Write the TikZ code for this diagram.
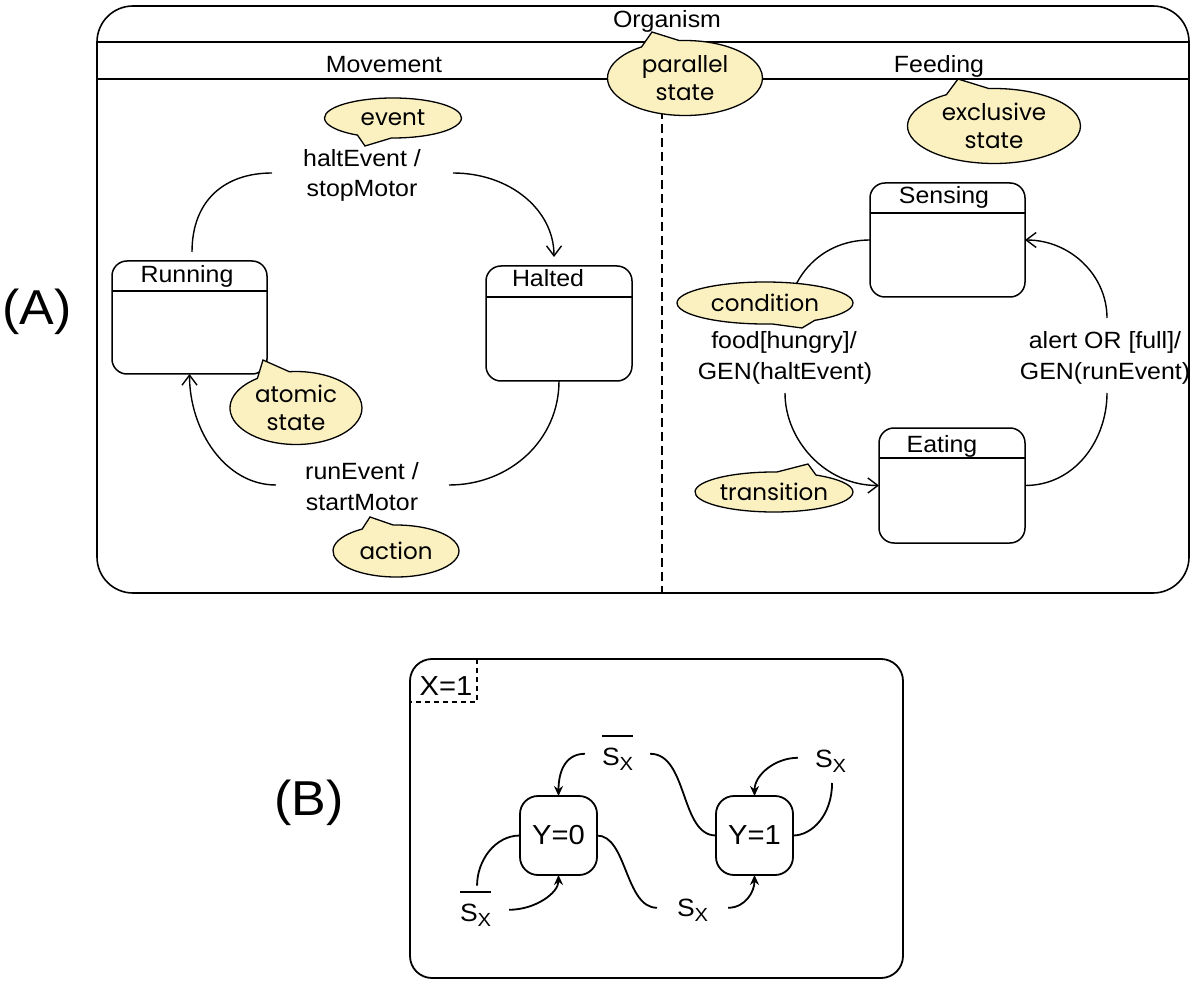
\documentclass[tikz,border=0pt]{standalone}
\usepackage{fontspec}
\setmainfont{Liberation Sans}[FakeStretch=1.06]
\newfontfamily\callfont{Poppins}
\usetikzlibrary{shapes.callouts,shapes.geometric,arrows.meta}
\definecolor{callfill}{RGB}{250,240,192}
\newcommand{\mySX}{S\raisebox{-5pt}{\fontsize{19}{19}\selectfont X}}
\begin{document}
\begin{tikzpicture}[x=1pt,y=-1pt,
 every node/.style={inner sep=0pt,outer sep=0pt},
 boxline/.style={line width=1.5pt},
 statebox/.style={draw,line width=1.5pt,rounded corners=15pt},
 lbl/.style={font=\fontsize{23.5}{30}\selectfont,anchor=base},
 call/.style={ellipse callout,draw,fill=callfill,line width=1.3pt,callout pointer arc=30,font=\callfont\fontsize{23}{28}\selectfont,align=center},
 trans/.style={line width=1.4pt},
 opentip/.style={-{Straight Barb[length=10pt,width=15pt]}},
 bline/.style={line width=1.8pt},
 btip/.style={-{Stealth[length=10pt,width=9pt]}},
 ybox/.style={draw,line width=1.8pt,rounded corners=18pt,minimum width=77pt,minimum height=79pt,font=\fontsize{27.5}{30}\selectfont},
 slbl/.style={font=\fontsize{25}{28}\selectfont,anchor=base west},
 bigl/.style={font=\fontsize{49}{55}\selectfont},
]
\useasboundingbox (0,0) rectangle (1200,984);

% ---------------- Part A ----------------
\node[bigl] (labA) at (37,312) {(A)};
\node[draw,line width=1.6pt,rounded corners=36pt,minimum width=1092pt,minimum height=587pt] (org) at (643,299.5) {};
\coordinate (hy1) at (0,42);
\coordinate (hy2) at (0,79);
\draw[boxline] (org.west |- hy1) -- (org.east |- hy1);
\draw[boxline] (org.west |- hy2) -- (org.east |- hy2);
\node[lbl] (tOrg) at (667,28) {Organism};
\node[lbl] (tMov) at (384,73) {Movement};
\node[lbl] (tFeed) at (939,73) {Feeding};
\coordinate (dtop) at (662,110);
\draw[line width=1.4pt,dash pattern=on 9pt off 5pt] (dtop) -- (dtop |- org.south);

% states
\node[statebox,minimum width=155pt,minimum height=113pt] (run) at (189.5,317.5) {};
\draw[boxline] ([yshift=-30pt]run.north west) -- ([yshift=-30pt]run.north east);
\node[lbl] (tRun) at (187,283) {Running};
\node[statebox,minimum width=146pt,minimum height=115pt] (halt) at (559,323.5) {};
\draw[boxline] ([yshift=-31pt]halt.north west) -- ([yshift=-31pt]halt.north east);
\node[lbl] (tHalt) at (548,287) {Halted};
\node[statebox,minimum width=155pt,minimum height=114pt] (sense) at (947.5,240) {};
\draw[boxline] ([yshift=-30pt]sense.north west) -- ([yshift=-30pt]sense.north east);
\node[lbl] (tSense) at (944,204) {Sensing};
\node[statebox,minimum width=146pt,minimum height=115pt] (eat) at (952,485.5) {};
\draw[boxline] ([yshift=-30pt]eat.north west) -- ([yshift=-30pt]eat.north east);
\node[lbl] (tEat) at (942,452) {Eating};

% transition labels
\node[lbl] (hl1) at (362,167) {haltEvent /};
\node[lbl] (hl2) at (362,197) {stopMotor};
\node[lbl] (rl1) at (362,479) {runEvent /};
\node[lbl] (rl2) at (362,510) {startMotor};
\node[lbl] (fl1) at (784,349) {food[hungry]/};
\node[lbl] (fl2) at (785,380) {GEN(haltEvent)};
\node[lbl] (al1) at (1105,349) {alert OR [full]/};
\node[lbl] (al2) at (1105,380) {GEN(runEvent)};

% transitions
\coordinate (hLa) at (272,173);
\coordinate (hRa) at (453,173);
\draw[trans] ([xshift=2.5pt,yshift=9pt]run.north) .. controls +(0,-52) and +(-47,0) .. (hLa);
\draw[trans,opentip] (hRa) .. controls +(57,0) and +(0,-47) .. ([xshift=-5pt,yshift=9pt]halt.north);
\coordinate (rRa) at (449,485);
\coordinate (rLa) at (276,485);
\draw[trans] (halt.south) .. controls +(0,59) and +(61,0) .. (rRa);
\draw[trans,opentip] (rLa) .. controls +(-51,0) and +(0,56) .. (run.south);
\coordinate (fUa) at (790,300);
\coordinate (fLa) at (785,393);
\draw[trans] (sense.west) .. controls +(-40,0) and +(10,-35) .. (fUa);
\draw[trans,opentip] (fLa) .. controls +(0,47) and +(-54,0) .. (eat.west);
\coordinate (aLa) at (1107,393);
\coordinate (aUa) at (1107,318);
\draw[trans] (eat.east) .. controls +(50,0) and +(0,47) .. (aLa);
\draw[trans,opentip] (aUa) .. controls +(0,-43) and +(45,0) .. (sense.east);

% callouts
\node[call,minimum width=155pt,minimum height=75pt,callout absolute pointer={(652,32)}] (cPar) at (685,78) {parallel\\state};
\node[call,minimum width=173pt,minimum height=75pt,callout absolute pointer={(958,79)}] (cExc) at (994,126) {exclusive\\state};
\node[call,minimum width=137pt,minimum height=40pt,callout absolute pointer={(365,146)}] (cEvt) at (393,118) {event};
\node[call,minimum width=132pt,minimum height=73pt,callout absolute pointer={(263,360)}] (cAtom) at (296,408) {atomic\\state};
\node[call,minimum width=126pt,minimum height=52pt,callout absolute pointer={(370,517)}] (cAct) at (396,551) {action};
\node[call,minimum width=176pt,minimum height=42pt,callout absolute pointer={(802,328)}] (cCond) at (765,303) {condition};
\node[call,minimum width=158pt,minimum height=40pt,callout absolute pointer={(808,464)}] (cTr) at (774,492) {transition};

% ---------------- Part B ----------------
\node[bigl] (labB) at (309,803) {(B)};
\node[draw,line width=1.8pt,rounded corners=22pt,minimum width=493pt,minimum height=319pt] (bbox) at (656.5,818.5) {};
\coordinate (xc) at (477,702);
\draw[line width=1.4pt,dash pattern=on 5pt off 4pt] (xc |- bbox.north) -- (xc) -- (xc -| bbox.west);
\node[font=\fontsize{27.5}{30}\selectfont,anchor=base] (tX) at (446,695) {X=1};
\node[ybox] (y0) at (558.5,835.5) {Y=0};
\node[ybox] (y1) at (754.5,835.5) {Y=1};
\node[slbl] (sA) at (602,765) {\mySX};
\node[slbl] (sB) at (815,767) {\mySX};
\node[slbl] (sC) at (460,921) {\mySX};
\node[slbl] (sD) at (677,916) {\mySX};
\draw[line width=2pt] ([yshift=12pt]sA.north west) -- ([yshift=12pt]sA.north east);
\draw[line width=2pt] ([yshift=12pt]sC.north west) -- ([yshift=12pt]sC.north east);

\draw[bline,btip] ([xshift=-17pt,yshift=5pt]sA.west) .. controls +(-20,0) and +(0,-24) .. (y0.north);
\draw[bline] ([xshift=17pt,yshift=5pt]sA.east) .. controls +(38,0) and +(-36,0) .. (y1.west);
\draw[bline,btip] ([xshift=-17pt,yshift=3pt]sB.west) .. controls +(-23,0) and +(0,-21) .. (y1.north);
\draw[bline] ([xshift=1.5pt,yshift=-11pt]sB.south) .. controls +(0,32) and +(19,0) .. (y1.east);
\draw[bline] (y0.west) .. controls +(-25,0) and +(0,-25) .. ([xshift=1.5pt,yshift=18pt]sC.north);
\draw[bline,btip] ([xshift=18pt,yshift=5pt]sC.east) .. controls +(26,0) and +(0,18) .. (y0.south);
\draw[bline] (y0.east) .. controls +(30,0) and +(-32,0) .. ([xshift=-20pt,yshift=2pt]sD.west);
\draw[bline,btip] ([xshift=20pt,yshift=2pt]sD.east) .. controls +(17,0) and +(0,17) .. (y1.south);
\end{tikzpicture}
\end{document}
